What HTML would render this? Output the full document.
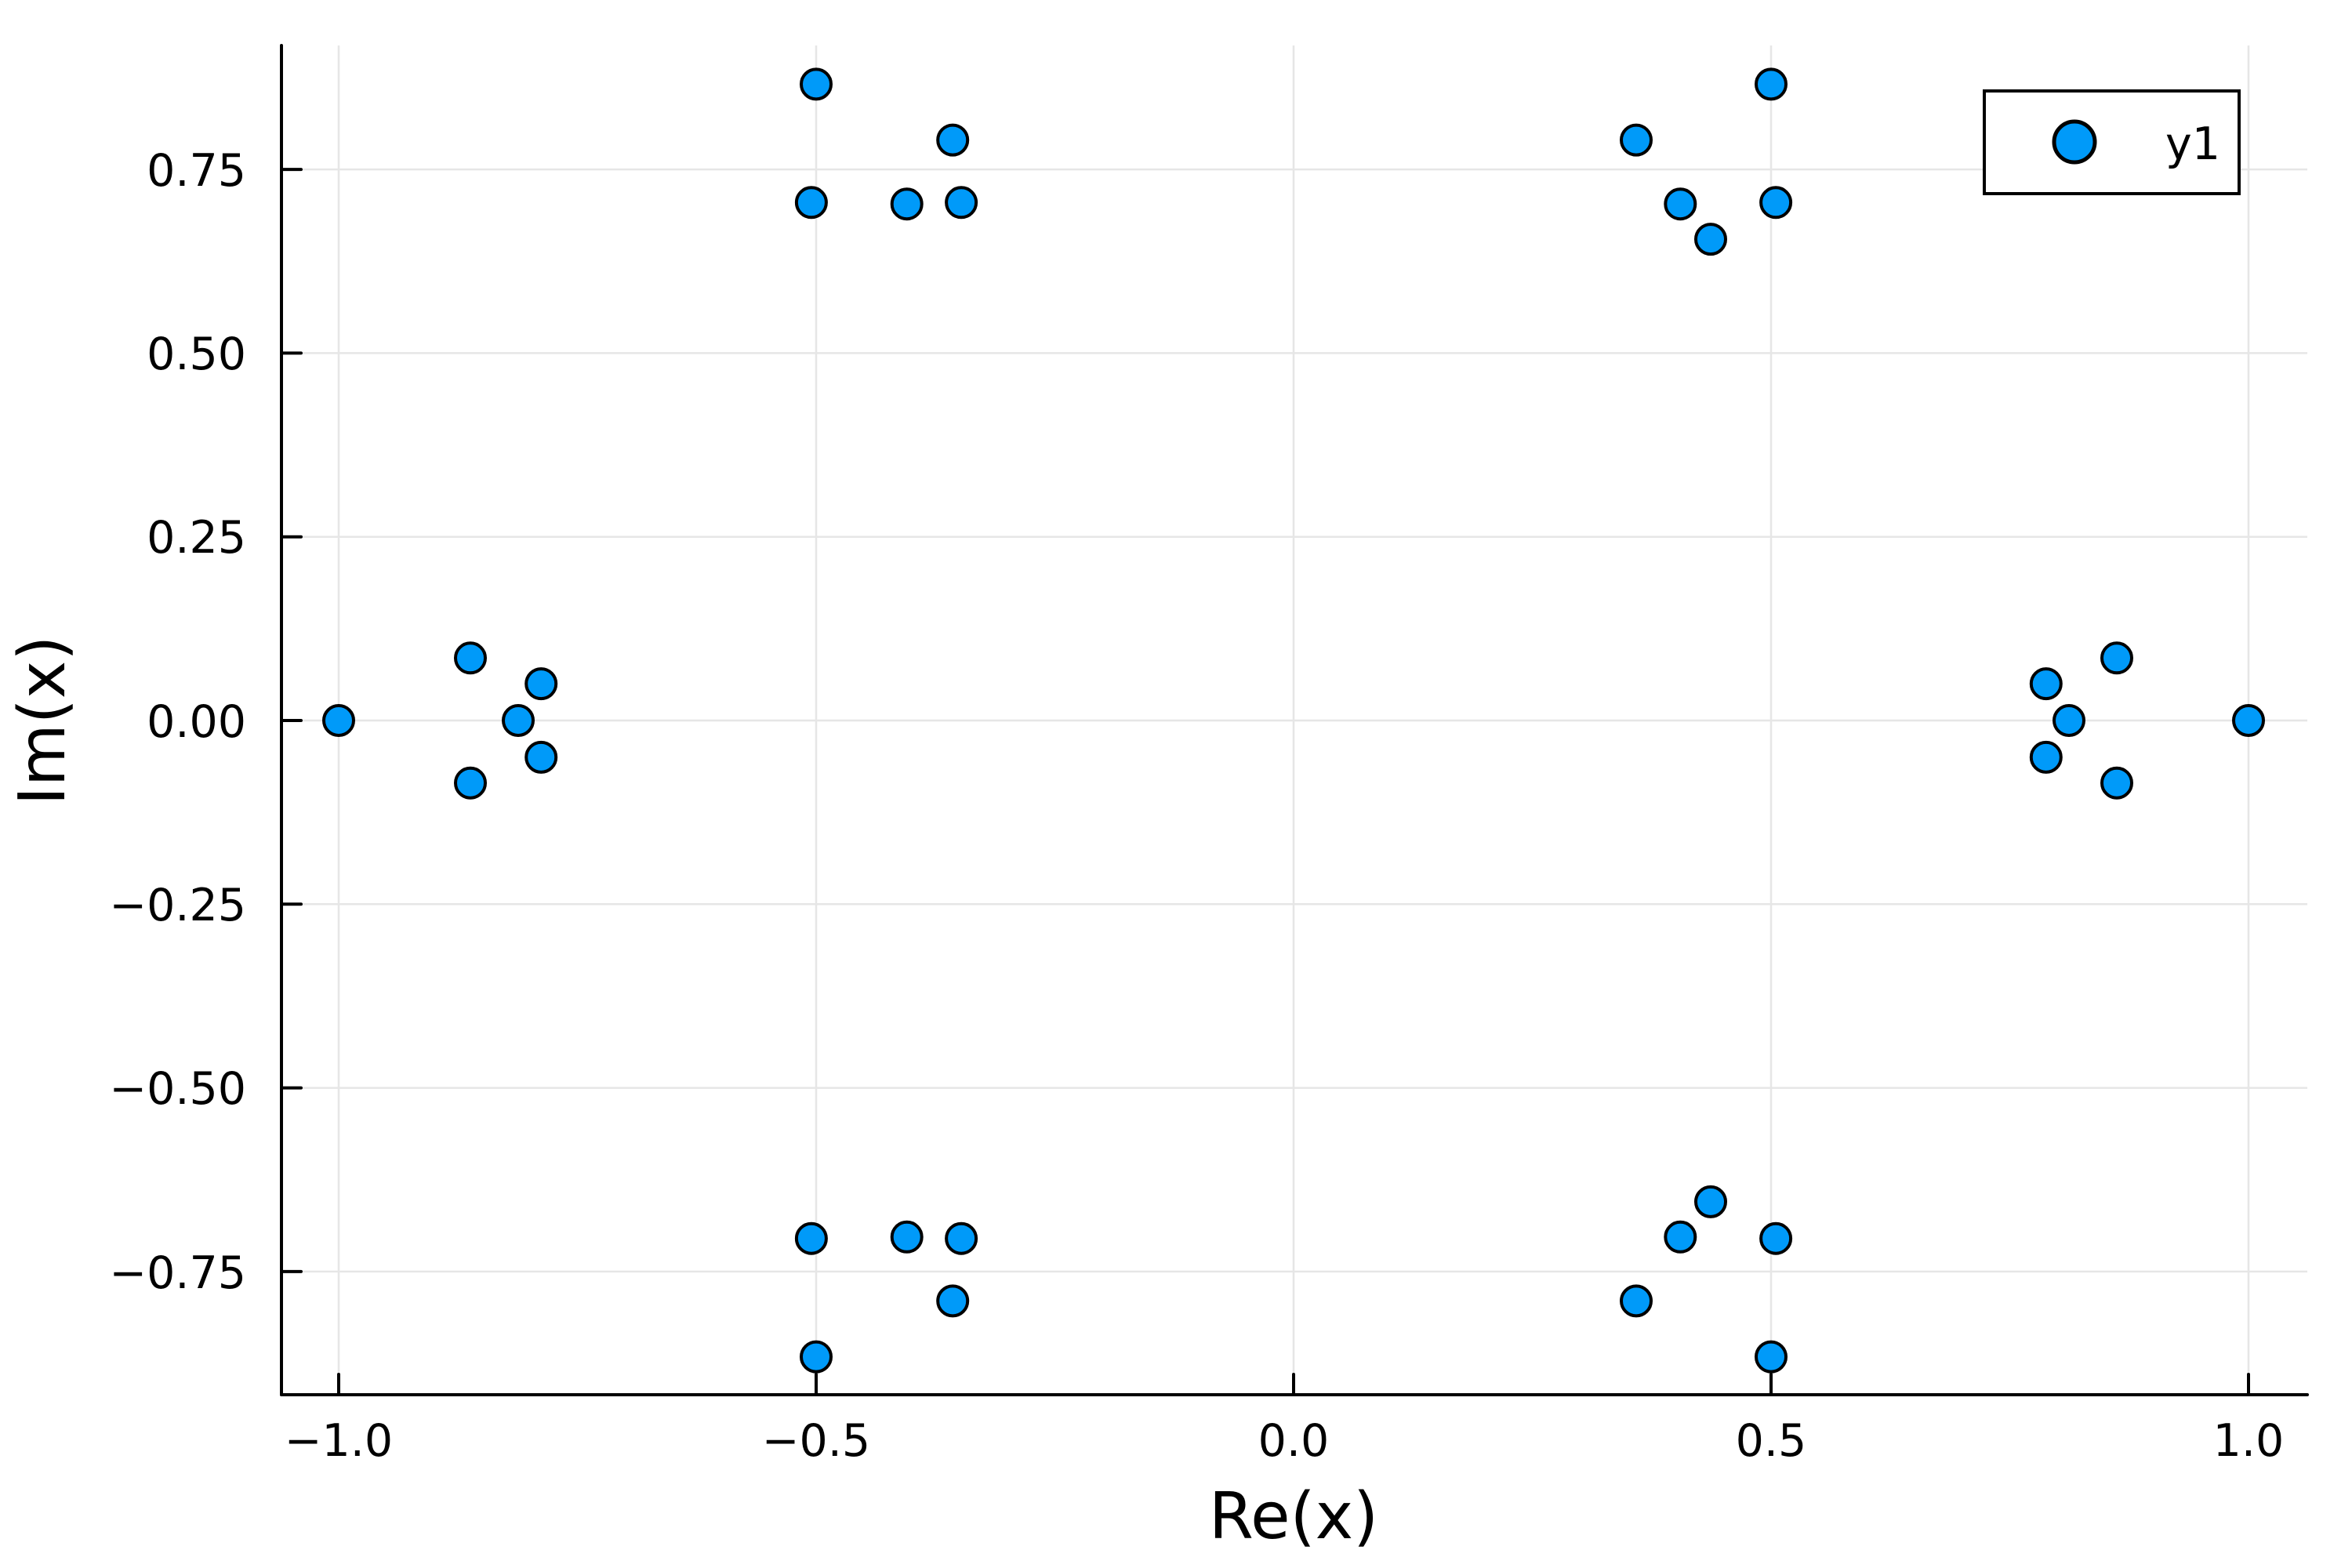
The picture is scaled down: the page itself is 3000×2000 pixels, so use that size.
<!DOCTYPE html>
<html><head><meta charset="utf-8"><style>html,body{margin:0;padding:0;background:#fff}svg{display:block}</style></head><body>
<svg width="3000" height="2000" viewBox="0 0 3000 2000" xmlns="http://www.w3.org/2000/svg" font-family="DejaVu Sans, Liberation Sans, sans-serif">
<rect width="3000" height="2000" fill="#fff"/>
<g stroke="#e6e6e6" stroke-width="2.5">
<line x1="432" y1="58" x2="432" y2="1779"/><line x1="1041" y1="58" x2="1041" y2="1779"/><line x1="1650" y1="58" x2="1650" y2="1779"/><line x1="2259" y1="58" x2="2259" y2="1779"/><line x1="2868" y1="58" x2="2868" y2="1779"/>
<line x1="359" y1="216.1" x2="2943" y2="216.1"/><line x1="359" y1="450.4" x2="2943" y2="450.4"/><line x1="359" y1="684.7" x2="2943" y2="684.7"/><line x1="359" y1="919" x2="2943" y2="919"/><line x1="359" y1="1153.3" x2="2943" y2="1153.3"/><line x1="359" y1="1387.6" x2="2943" y2="1387.6"/><line x1="359" y1="1621.9" x2="2943" y2="1621.9"/>
</g>
<g stroke="#000" stroke-width="4" stroke-linecap="round">
<line x1="359" y1="58" x2="359" y2="1779"/><line x1="359" y1="1779" x2="2943" y2="1779"/>
<line x1="359" y1="216.1" x2="384" y2="216.1"/><line x1="359" y1="450.4" x2="384" y2="450.4"/><line x1="359" y1="684.7" x2="384" y2="684.7"/><line x1="359" y1="919" x2="384" y2="919"/><line x1="359" y1="1153.3" x2="384" y2="1153.3"/><line x1="359" y1="1387.6" x2="384" y2="1387.6"/><line x1="359" y1="1621.9" x2="384" y2="1621.9"/>
<line x1="432" y1="1779" x2="432" y2="1753"/><line x1="1041" y1="1779" x2="1041" y2="1753"/><line x1="1650" y1="1779" x2="1650" y2="1753"/><line x1="2259" y1="1779" x2="2259" y2="1753"/><line x1="2868" y1="1779" x2="2868" y2="1753"/>
</g>
<g font-size="57" text-anchor="end" fill="#000">
<text x="314" y="237">0.75</text><text x="314" y="471">0.50</text><text x="314" y="705">0.25</text><text x="314" y="940">0.00</text><text x="314" y="1174">−0.25</text><text x="314" y="1408">−0.50</text><text x="314" y="1643">−0.75</text>
</g>
<g font-size="57" text-anchor="middle" fill="#000">
<text x="432" y="1857">−1.0</text><text x="1041" y="1857">−0.5</text><text x="1650" y="1857">0.0</text><text x="2259" y="1857">0.5</text><text x="2868" y="1857">1.0</text>
</g>
<text x="1650" y="1962" font-size="82" text-anchor="middle">Re(x)</text>
<text transform="translate(82,919) rotate(-90)" font-size="82" text-anchor="middle">Im(x)</text>
<g fill="#009af9" stroke="#000" stroke-width="4">
<circle cx="432" cy="919" r="19"/><circle cx="2868" cy="919" r="19"/>
<circle cx="600" cy="839.3" r="19"/><circle cx="600" cy="998.7" r="19"/>
<circle cx="690.2" cy="872.1" r="19"/><circle cx="690.2" cy="965.9" r="19"/>
<circle cx="661" cy="919" r="19"/>
<circle cx="2700" cy="839.3" r="19"/><circle cx="2700" cy="998.7" r="19"/>
<circle cx="2609.8" cy="872.1" r="19"/><circle cx="2609.8" cy="965.9" r="19"/>
<circle cx="2639" cy="919" r="19"/>
<circle cx="1041" cy="107.4" r="19"/><circle cx="1034.9" cy="258.3" r="19"/><circle cx="1156.7" cy="260.2" r="19"/><circle cx="1215.2" cy="178.6" r="19"/><circle cx="1226.1" cy="258.3" r="19"/>
<circle cx="1041" cy="1730.6" r="19"/><circle cx="1034.9" cy="1579.7" r="19"/><circle cx="1156.7" cy="1577.8" r="19"/><circle cx="1215.2" cy="1659.4" r="19"/><circle cx="1226.1" cy="1579.7" r="19"/>
<circle cx="2259" cy="107.4" r="19"/><circle cx="2265.1" cy="258.3" r="19"/><circle cx="2087" cy="178.6" r="19"/><circle cx="2143.3" cy="260.2" r="19"/><circle cx="2182" cy="305.1" r="19"/>
<circle cx="2259" cy="1730.6" r="19"/><circle cx="2265.1" cy="1579.7" r="19"/><circle cx="2087" cy="1659.4" r="19"/><circle cx="2143.3" cy="1577.8" r="19"/><circle cx="2182" cy="1532.9" r="19"/>
</g>
<rect x="2531" y="116" width="325" height="131" fill="#fff" stroke="#000" stroke-width="4"/>
<circle cx="2646" cy="181" r="26" fill="#009af9" stroke="#000" stroke-width="5"/>
<text x="2762" y="203" font-size="57">y1</text>
</svg>
</body></html>
